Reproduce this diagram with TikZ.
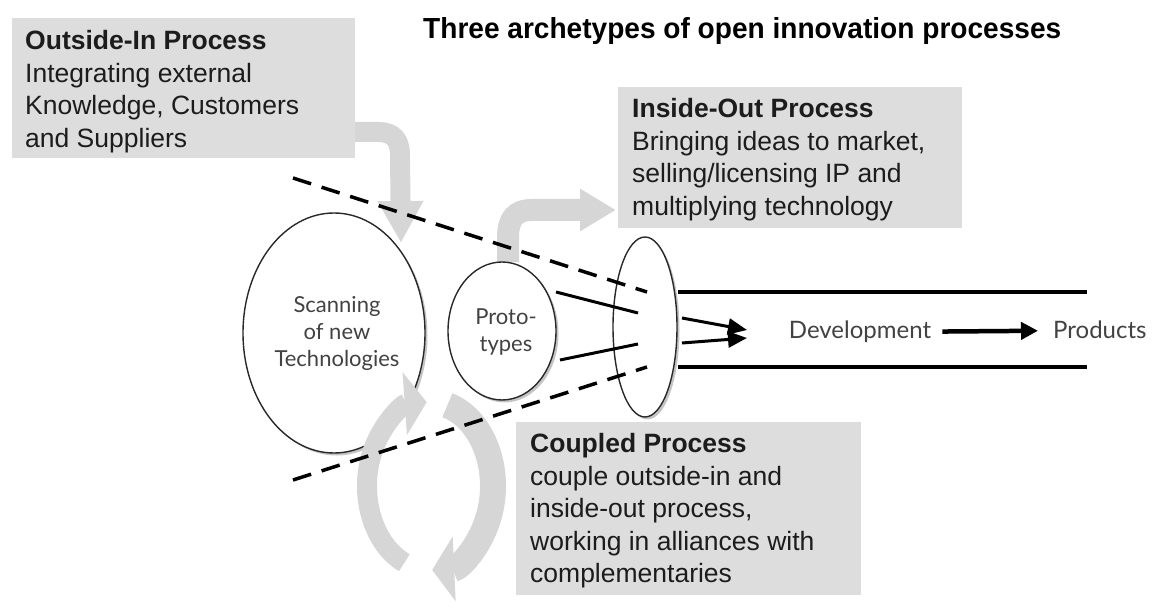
\documentclass[tikz,border=0pt]{standalone}
\usepackage{graphicx}
\usepackage{fontspec}
\setmainfont{Liberation Sans}
\newfontfamily\gillfont{Lato}
\usetikzlibrary{arrows.meta,shapes.geometric,shadows}

\definecolor{boxgray}{RGB}{221,221,221}
\definecolor{arrowgray}{RGB}{214,214,214}
\definecolor{inkgray}{RGB}{66,66,66}
\definecolor{textblack}{RGB}{28,28,28}
\definecolor{outline}{RGB}{40,40,40}

% rows of text whose baseline is the baseline of the first row
\newcommand\textrows[2][l]{\begin{tabular}[t]{@{}#1@{}}#2\end{tabular}}
\renewcommand\arraystretch{1}

\begin{document}
\begin{tikzpicture}[x=1pt,y=-1pt,
  procbox/.style={fill=boxgray,draw=none,inner sep=0pt,anchor=north west},
  boxtext/.style={inner sep=0pt,anchor=base west,text=textblack,
    font=\fontsize{26.5}{32.5}\selectfont},
  bubble/.style={ellipse,draw=outline,line width=1.4pt,fill=white,inner sep=0pt,
    drop shadow={shadow xshift=2.5pt,shadow yshift=-2.5pt,fill=black!45}},
  bubbletext/.style={inner sep=0pt,anchor=base,text=inkgray,
    font=\gillfont\fontsize{22}{27}\selectfont},
  flowtext/.style={inner sep=0pt,text=inkgray,font=\gillfont\fontsize{24}{28}\selectfont},
  band/.style={draw=arrowgray,line join=round},
  dashline/.style={line width=3.5pt,dash pattern=on 19pt off 11pt},
  feed/.style={line width=3pt},
  rail/.style={line width=4pt},
  flow/.style={line width=3pt,-{Triangle[length=19pt,width=16pt]}},
]
\useasboundingbox (0,0) rectangle (1152,612);

% title
\node[inner sep=0pt,anchor=base west,font=\fontsize{29}{34}\selectfont\bfseries] (title)
  at (423,39) {\scalebox{0.968}[1]{Three archetypes of open innovation processes}};

% the three process boxes
\node[procbox,minimum width=343pt,minimum height=140pt] (oibox) at (12,18) {};
\node[procbox,minimum width=344pt,minimum height=141pt] (iobox) at (618,87) {};
\node[procbox,minimum width=345pt,minimum height=173pt] (cpbox) at (516,422) {};

\node[boxtext] (oitext) at (25,50) {\textrows{\textbf{Outside-In Process}\\
  Integrating external\\Knowledge, Customers\\and Suppliers}};
\node[boxtext] (iotext) at (632,118) {\textrows{\textbf{Inside-Out Process}\\
  Bringing ideas to market,\\selling/licensing IP and\\multiplying technology}};
\node[boxtext] (cptext) at (530,453) {\textrows{\textbf{Coupled Process}\\
  couple outside-in and\\inside-out process,\\working in alliances with\\complementaries}};

% inside-out arrow leaving the prototypes
\coordinate (ioout) at (508,262);
\coordinate (ioin) at (616,210);
\draw[band,line width=22pt,-{Triangle[length=36pt,width=40pt]}]
  (ioout) -- (508,238) .. controls (508,220) and (514,210) .. (532,210) -- (ioin);

% the three stages
\node[bubble,minimum width=182pt,minimum height=240pt] (scan) at (334,333) {};
\node[bubble,minimum width=108pt,minimum height=138pt] (proto) at (502,331) {};
\node[bubble,minimum width=64pt,minimum height=180pt] (gate) at (645,327) {};

% outside-in arrow into the scanning stage
\coordinate (oiout) at (355,132);
\coordinate (oiin) at (401,243);
\draw[band,line width=20pt,-{Triangle[length=42pt,width=43pt]}]
  (oiout) -- (378,132) .. controls (394,132) and (400,140) .. (400,156) -- (oiin);

% coupled process: two arcs forming a cycle
\coordinate (cc) at (430,486);
\draw[band,line width=20pt,-{Triangle[length=22pt,width=62pt]}]
  ([shift={(114:63 and 84)}]cc) arc[start angle=114,end angle=267,x radius=63,y radius=84];
\draw[band,line width=26pt,-{Triangle[length=22pt,width=64pt]}]
  ([shift={(286:63 and 84)}]cc) arc[start angle=286,end angle=448,x radius=63,y radius=84];

% funnel borders
\coordinate (dA) at (293,178);
\coordinate (dB) at (647,292);
\coordinate (dC) at (293,480);
\coordinate (dD) at (647,367);
\draw[dashline] (dA) -- (dB);
\draw[dashline] (dC) -- (dD);

% prototypes feeding the gate
\coordinate (pA) at (556,292);
\coordinate (gA) at (638,313);
\coordinate (pB) at (560,360);
\coordinate (gB) at (638,344);
\draw[feed] (pA) -- (gA);
\draw[feed] (pB) -- (gB);

% development channel
\coordinate (rA1) at (678,292);
\coordinate (rA2) at (1087,292);
\coordinate (rB1) at (678,367);
\coordinate (rB2) at (1087,367);
\draw[rail] (rA1) -- (rA2);
\draw[rail] (rB1) -- (rB2);

\coordinate (fA1) at (682,318);
\coordinate (fA2) at (747,330);
\coordinate (fB1) at (682,343);
\coordinate (fB2) at (747,338);
\draw[flow] (fA1) -- (fA2);
\draw[flow] (fB1) -- (fB2);

\node[flowtext,anchor=base] (dev) at (860,339) {Development};
\node[flowtext,anchor=base west] (prod) at (1053,339) {Products};
\draw[line width=4.5pt,-{Triangle[length=17pt,width=17pt]},shorten <=11pt,shorten >=15pt]
  (dev) -- (prod);

% stage labels
\node[bubbletext] (scantext) at (337,313) {\textrows[c]{Scanning\\of new\\Technologies}};
\node[bubbletext] (prototext) at (506,325) {\textrows[c]{Proto-\\types}};
\end{tikzpicture}
\end{document}
